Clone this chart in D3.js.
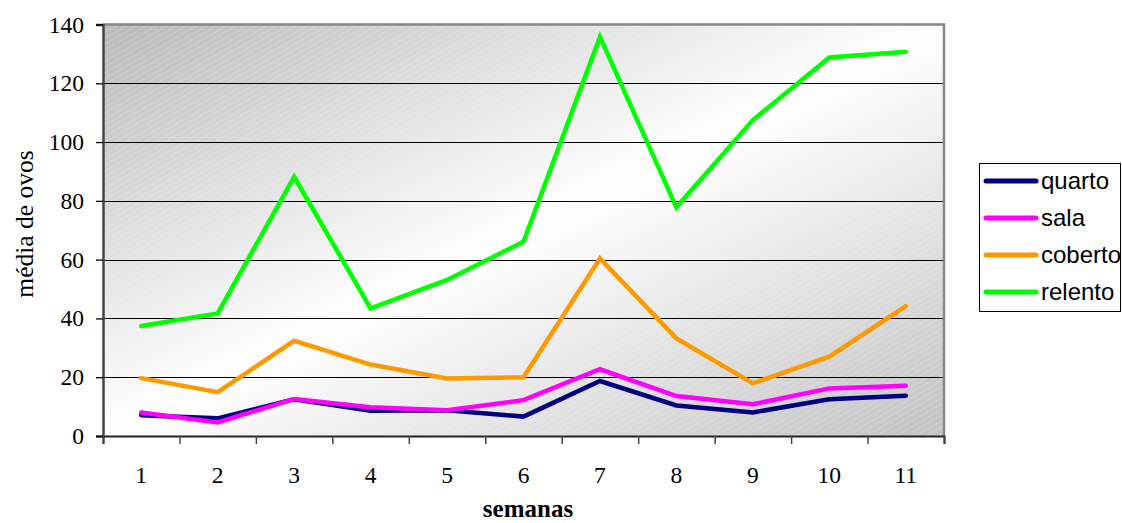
<!DOCTYPE html>
<html>
<head>
<meta charset="utf-8">
<script src="https://cdn.jsdelivr.net/npm/d3@7"></script>
<style>
  html, body { margin: 0; padding: 0; background: #fff; }
  svg { display: block; }
</style>
</head>
<body>
<svg id="chart" width="1122" height="523"></svg>
<script>
// ---- data ----
const weeks   = ["1","2","3","4","5","6","7","8","9","10","11"];
const quarto  = [7.1, 6.0, 12.5, 8.6, 8.8, 6.6, 18.7, 10.4, 8.0, 12.5, 13.7];
const sala    = [8.0, 4.6, 12.6, 9.8, 8.8, 12.2, 22.7, 13.6, 10.8, 16.2, 17.1];
const coberto = [19.7, 14.9, 32.4, 24.3, 19.6, 20.0, 60.4, 33.2, 17.9, 27.0, 44.2];
const relento = [37.4, 41.7, 88.2, 43.4, 53.1, 66.1, 135.8, 77.8, 107.5, 128.8, 130.7];
const seriesNames  = ["quarto", "sala", "coberto", "relento"];
const seriesColors = ["#000080", "#FF00FF", "#FF9900", "#00FF00"];
const yTicks = [0, 20, 40, 60, 80, 100, 120, 140];
const xTitle = "semanas";
const yTitle = "média de ovos";

const seriesValues = [quarto, sala, coberto, relento];

// ---- layout ----
const L = 103, R = 944, T = 24.5, B = 436;
const svg = d3.select("#chart");
const serif = "'Liberation Serif', 'Times New Roman', serif";

const x = d3.scaleBand().domain(weeks).range([L, R]).paddingInner(0).paddingOuter(0);
const xEdge = d3.scaleLinear().domain([0, weeks.length]).range([L, R]);
const y = d3.scaleLinear().domain([0, 140]).range([B, T]);

// background gradient + hatch
const defs = svg.append("defs");
const grad = defs.append("linearGradient").attr("id", "bg")
  .attr("x1", 0).attr("y1", 0).attr("x2", 1).attr("y2", 1);
grad.append("stop").attr("offset", "0%").attr("stop-color", "#bababa");
grad.append("stop").attr("offset", "50%").attr("stop-color", "#ffffff");
grad.append("stop").attr("offset", "100%").attr("stop-color", "#c2c2c2");

const pat = defs.append("pattern").attr("id", "hatch")
  .attr("patternUnits", "userSpaceOnUse").attr("width", 5).attr("height", 5)
  .attr("patternTransform", "rotate(-30)");
pat.append("line").attr("x1", 0).attr("y1", 0).attr("x2", 5).attr("y2", 0)
  .attr("stroke", "#ffffff").attr("stroke-width", 1).attr("stroke-opacity", 0.4)
  .attr("stroke-dasharray", "3,1");

svg.append("rect").attr("x", L).attr("y", T).attr("width", R - L).attr("height", B - T)
  .attr("fill", "url(#bg)");
svg.append("rect").attr("x", L).attr("y", T).attr("width", R - L).attr("height", B - T)
  .attr("fill", "url(#hatch)");

// gridlines
svg.append("g").selectAll("line").data(yTicks.filter(d => d > 0 && d < 140)).join("line")
  .attr("x1", L).attr("x2", R)
  .attr("y1", d => Math.round(y(d)) + 0.5).attr("y2", d => Math.round(y(d)) + 0.5)
  .attr("stroke", "#000").attr("stroke-width", 1);

// plot border (top/right gray)
svg.append("path")
  .attr("d", `M${L},${T} L${R},${T} L${R},${B}`)
  .attr("fill", "none").attr("stroke", "#888").attr("stroke-width", 2.5);

// y axis
const yAxis = d3.axisLeft(y).tickValues(yTicks).tickSize(7).tickPadding(12);
const gy = svg.append("g").attr("transform", `translate(${L},0)`).call(yAxis);
gy.select(".domain").attr("stroke", "#444").attr("stroke-width", 2.5);
gy.selectAll(".tick line").attr("stroke", "#000").attr("stroke-width", 1.3);
gy.selectAll("text").attr("font-family", serif)
  .attr("font-size", 23.5).attr("fill", "#000");

// x axis: tick marks at band edges
const xAxis = d3.axisBottom(xEdge).tickValues(d3.range(0, weeks.length + 1)).tickSize(8).tickFormat("");
const gx = svg.append("g").attr("transform", `translate(0,${B})`).call(xAxis);
gx.select(".domain").attr("stroke", "#222").attr("stroke-width", 2);
gx.selectAll(".tick line").attr("stroke", "#444").attr("stroke-width", 1.5);

// x labels centered in bands
const xLab = d3.axisBottom(x).tickSize(0).tickPadding(30);
const gxl = svg.append("g").attr("transform", `translate(0,${B})`).call(xLab);
gxl.select(".domain").remove();
gxl.selectAll("text").attr("font-family", serif)
  .attr("font-size", 23.5).attr("fill", "#000");

// titles
svg.append("text").attr("x", 528).attr("y", 517).attr("text-anchor", "middle")
  .attr("font-family", serif)
  .attr("font-size", 25).attr("font-weight", "bold").text(xTitle);
svg.append("text").attr("transform", "translate(33,224) rotate(-90)").attr("text-anchor", "middle")
  .attr("font-family", serif)
  .attr("font-size", 25.5).text(yTitle);

// lines
const line = d3.line().x((d, i) => x(weeks[i]) + x.bandwidth() / 2).y(d => y(d));
svg.append("g").selectAll("path").data(seriesValues).join("path")
  .attr("d", d => line(d))
  .attr("fill", "none")
  .attr("stroke", (d, i) => seriesColors[i])
  .attr("stroke-width", 4.5)
  .attr("stroke-linejoin", "miter")
  .attr("stroke-linecap", "round");

// legend
const lg = svg.append("g");
lg.append("rect").attr("x", 979.5).attr("y", 163.5).attr("width", 141).attr("height", 148)
  .attr("fill", "#fff").attr("stroke", "#000").attr("stroke-width", 1);
seriesNames.forEach((name, i) => {
  const by = 189 + i * 37;
  lg.append("line").attr("x1", 986).attr("x2", 1036).attr("y1", by - 8).attr("y2", by - 8)
    .attr("stroke", seriesColors[i]).attr("stroke-width", 5).attr("stroke-linecap", "round");
  lg.append("text").attr("x", 1041).attr("y", by)
    .attr("font-family", "'Liberation Sans', Arial, sans-serif")
    .attr("font-size", 24).attr("fill", "#000").text(name);
});
</script>
</body>
</html>
